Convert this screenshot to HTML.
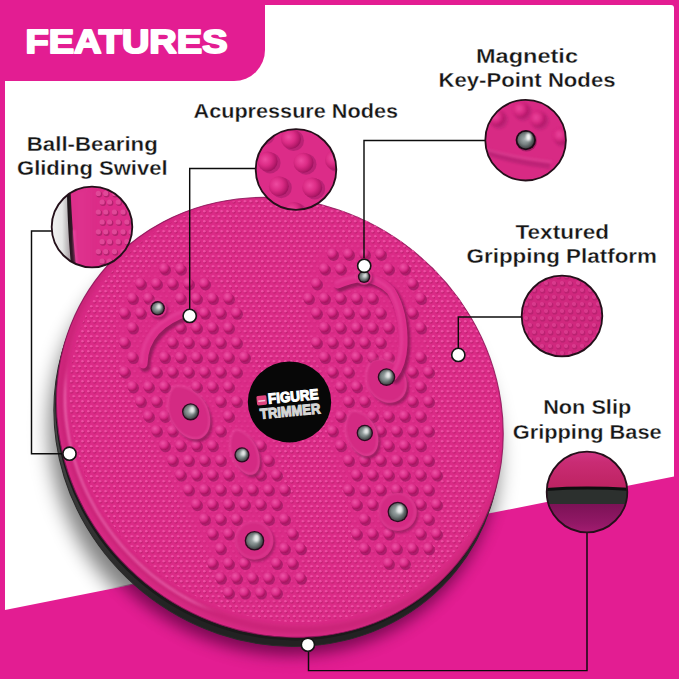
<!DOCTYPE html><html><head><meta charset="utf-8"><style>html,body{margin:0;padding:0;background:#e31d92;width:679px;height:679px;overflow:hidden}svg{display:block}text{font-family:"Liberation Sans",sans-serif;font-weight:bold}</style></head><body>
<svg width="679" height="679" viewBox="0 0 679 679">
<defs>
<filter id="bl8" x="-30%" y="-30%" width="160%" height="160%"><feGaussianBlur stdDeviation="8"/></filter><filter id="bl10" x="-30%" y="-30%" width="160%" height="160%"><feGaussianBlur stdDeviation="10"/></filter>
<filter id="bl3" x="-30%" y="-30%" width="160%" height="160%"><feGaussianBlur stdDeviation="3"/></filter>
<filter id="bl1" x="-30%" y="-30%" width="160%" height="160%"><feGaussianBlur stdDeviation="1"/></filter>
<radialGradient id="metal" cx="45%" cy="45%" r="60%"><stop offset="0" stop-color="#a8b2b2"/><stop offset="0.5" stop-color="#7a8484"/><stop offset="0.85" stop-color="#4a4f50"/><stop offset="1" stop-color="#303434"/></radialGradient>
<radialGradient id="bump" cx="42%" cy="38%" r="62%"><stop offset="0" stop-color="#f067b0"/><stop offset="0.55" stop-color="#d83a8e"/><stop offset="1" stop-color="#b0206e"/></radialGradient>
<radialGradient id="bigbump" cx="40%" cy="35%" r="65%"><stop offset="0" stop-color="#ee55a6"/><stop offset="0.6" stop-color="#da2c88"/><stop offset="1" stop-color="#a8125e"/></radialGradient>
<linearGradient id="nsTop" x1="0" y1="0" x2="0" y2="1"><stop offset="0" stop-color="#d5408e"/><stop offset="0.6" stop-color="#c52d72"/><stop offset="1" stop-color="#b0205a"/></linearGradient>
<linearGradient id="nsBot" x1="0" y1="0" x2="0" y2="1"><stop offset="0" stop-color="#6a1048"/><stop offset="0.5" stop-color="#8e1a66"/><stop offset="1" stop-color="#b8287e"/></linearGradient>
<pattern id="dots" x="0" y="0" width="5.8" height="10" patternUnits="userSpaceOnUse"><circle cx="1.9" cy="2.0" r="1.6" fill="#ae1862" opacity="0.75"/><circle cx="4.8" cy="7.0" r="1.6" fill="#ae1862" opacity="0.75"/><circle cx="1.3" cy="1.3" r="1.3" fill="#ee50a4"/><circle cx="4.2" cy="6.3" r="1.3" fill="#ee50a4"/></pattern>
<clipPath id="inner"><ellipse cx="284.8" cy="410.4" rx="221.8" ry="205.3" transform="rotate(39.0 284.8 410.4)" /></clipPath>
<mask id="footmask" maskUnits="userSpaceOnUse" x="0" y="0" width="679" height="679"><rect width="679" height="679" fill="#fff"/><g filter="url(#bl3)"><path d="M154.9,264.5 L202.3,271.3 L236.2,305.2 L243.0,346.0 L263.3,393.3 L272.0,430.0 L279.0,472.0 L294.0,515.0 L303.0,555.0 L299.0,586.0 L276.0,601.0 L240.0,603.0 L220.0,586.0 L204.0,546.0 L184.0,505.0 L166.0,466.0 L141.3,413.6 L121.0,366.2 L116.0,318.8 L127.8,284.9 Z" fill="#000" opacity="0.7"/><path d="M317.5,251.0 L358.2,240.8 L402.0,258.0 L421.0,298.0 L425.0,346.0 L431.0,393.3 L434.0,447.5 L441.0,495.0 L439.0,532.0 L424.0,557.0 L402.0,568.0 L380.0,568.0 L361.0,553.0 L351.0,520.0 L345.0,482.0 L331.0,447.5 L324.3,393.3 L310.7,339.0 L304.0,291.7 Z" fill="#000" opacity="0.7"/></g></mask>
<clipPath id="discc"><ellipse cx="279.8" cy="417.4" rx="229.8" ry="213.3" transform="rotate(39.0 279.8 417.4)" /></clipPath>
<clipPath id="panel"><path d="M5,5 H671 Q674,5 674,8 V476.6 L5,610 Z"/></clipPath>
<clipPath id="pinkbot"><path d="M0,0 V610 L674,476.6 V0 H679 V679 H0 Z"/></clipPath>
<clipPath id="c0"><circle cx="92.0" cy="227.0" r="40.3"/></clipPath>
<clipPath id="c1"><circle cx="296.0" cy="169.5" r="40.3"/></clipPath>
<clipPath id="c2"><circle cx="525.6" cy="140.2" r="40.3"/></clipPath>
<clipPath id="c3"><circle cx="562.0" cy="316.0" r="40.3"/></clipPath>
<clipPath id="c4"><circle cx="587.0" cy="492.0" r="40.3"/></clipPath>
</defs>
<rect width="679" height="679" fill="#e31d92"/>
<path d="M5,5 H671 Q674,5 674,8 V476.6 L5,610 Z" fill="#ffffff"/>
<path d="M0,0 H265 V50 A31,31 0 0 1 234,81 H0 Z" fill="#e31d92"/>
<text x="25.5" y="53.2" font-size="34" fill="#fff" textLength="202" lengthAdjust="spacingAndGlyphs" stroke="#fff" stroke-width="2" stroke-linejoin="round">FEATURES</text>
<g clip-path="url(#panel)"><ellipse cx="273.8" cy="444.4" rx="230.8" ry="214.3" transform="rotate(39.0 273.8 444.4)" fill="#000" opacity="0.5" filter="url(#bl10)"/></g>
<g clip-path="url(#pinkbot)"><ellipse cx="274.8" cy="435.4" rx="229.8" ry="213.3" transform="rotate(39.0 274.8 435.4)" fill="#4a0636" opacity="0.7" filter="url(#bl8)"/></g>
<linearGradient id="baseg" gradientUnits="userSpaceOnUse" x1="60" y1="420" x2="300" y2="650"><stop offset="0" stop-color="#5a5a5a"/><stop offset="0.45" stop-color="#444"/><stop offset="1" stop-color="#222"/></linearGradient>
<ellipse cx="277.3" cy="426.4" rx="229.8" ry="213.3" transform="rotate(39.0 277.3 426.4)" fill="url(#baseg)"/>
<ellipse cx="277.3" cy="426.4" rx="229.8" ry="213.3" transform="rotate(39.0 277.3 426.4)" fill="none" stroke="#2a2a2a" stroke-width="1"/>
<ellipse cx="278.6" cy="420.4" rx="229.8" ry="213.3" transform="rotate(39.0 278.6 420.4)" fill="#1a1a1a"/>
<ellipse cx="279.8" cy="417.4" rx="229.8" ry="213.3" transform="rotate(39.0 279.8 417.4)" fill="#db2b87"/>
<mask id="rimhl" maskUnits="userSpaceOnUse" x="0" y="0" width="679" height="679"><path d="M0,380 L110,380 L230,560 L160,679 L0,679 Z" fill="#fff" filter="url(#bl10)"/></mask>
<g clip-path="url(#discc)">
<g mask="url(#rimhl)"><ellipse cx="282.3" cy="413.9" rx="223.8" ry="207.3" transform="rotate(39.0 282.3 413.9)" fill="none" stroke="#ff7cc6" stroke-width="2.4" opacity="0.85" filter="url(#bl1)"/></g>
<ellipse cx="284.8" cy="410.4" rx="229.8" ry="213.3" transform="rotate(39.0 284.8 410.4)" fill="none" stroke="#a01654" stroke-width="6" opacity="0.4" filter="url(#bl3)"/>
</g>
<ellipse cx="279.8" cy="417.4" rx="229.8" ry="213.3" transform="rotate(39.0 279.8 417.4)" fill="none" stroke="#8c1458" stroke-width="1.1" opacity="0.85"/>
<g clip-path="url(#inner)">
<rect x="40" y="180" width="480" height="480" fill="url(#dots)" mask="url(#footmask)"/>
<filter id="soft" x="-10%" y="-10%" width="120%" height="120%"><feGaussianBlur stdDeviation="0.6"/></filter>
<g filter="url(#soft)">
<g fill="#8e1659" opacity="0.6"><circle cx="333.5" cy="255.4" r="5.5"/><circle cx="349.5" cy="255.4" r="5.5"/><circle cx="365.5" cy="255.4" r="5.5"/><circle cx="381.5" cy="255.4" r="5.5"/><circle cx="165.5" cy="270.2" r="5.5"/><circle cx="181.5" cy="270.2" r="5.5"/><circle cx="325.5" cy="270.2" r="5.5"/><circle cx="341.5" cy="270.2" r="5.5"/><circle cx="389.5" cy="270.2" r="5.5"/><circle cx="405.5" cy="270.2" r="5.5"/><circle cx="141.5" cy="284.9" r="5.5"/><circle cx="157.5" cy="284.9" r="5.5"/><circle cx="173.5" cy="284.9" r="5.5"/><circle cx="189.5" cy="284.9" r="5.5"/><circle cx="205.5" cy="284.9" r="5.5"/><circle cx="317.5" cy="284.9" r="5.5"/><circle cx="413.5" cy="284.9" r="5.5"/><circle cx="133.5" cy="299.6" r="5.5"/><circle cx="149.5" cy="299.6" r="5.5"/><circle cx="181.5" cy="299.6" r="5.5"/><circle cx="197.5" cy="299.6" r="5.5"/><circle cx="213.5" cy="299.6" r="5.5"/><circle cx="229.5" cy="299.6" r="5.5"/><circle cx="309.5" cy="299.6" r="5.5"/><circle cx="325.5" cy="299.6" r="5.5"/><circle cx="341.5" cy="299.6" r="5.5"/><circle cx="357.5" cy="299.6" r="5.5"/><circle cx="373.5" cy="299.6" r="5.5"/><circle cx="421.5" cy="299.6" r="5.5"/><circle cx="125.5" cy="314.3" r="5.5"/><circle cx="141.5" cy="314.3" r="5.5"/><circle cx="205.5" cy="314.3" r="5.5"/><circle cx="221.5" cy="314.3" r="5.5"/><circle cx="237.5" cy="314.3" r="5.5"/><circle cx="317.5" cy="314.3" r="5.5"/><circle cx="333.5" cy="314.3" r="5.5"/><circle cx="349.5" cy="314.3" r="5.5"/><circle cx="365.5" cy="314.3" r="5.5"/><circle cx="381.5" cy="314.3" r="5.5"/><circle cx="413.5" cy="314.3" r="5.5"/><circle cx="133.5" cy="329.0" r="5.5"/><circle cx="181.5" cy="329.0" r="5.5"/><circle cx="197.5" cy="329.0" r="5.5"/><circle cx="213.5" cy="329.0" r="5.5"/><circle cx="229.5" cy="329.0" r="5.5"/><circle cx="325.5" cy="329.0" r="5.5"/><circle cx="341.5" cy="329.0" r="5.5"/><circle cx="357.5" cy="329.0" r="5.5"/><circle cx="373.5" cy="329.0" r="5.5"/><circle cx="389.5" cy="329.0" r="5.5"/><circle cx="421.5" cy="329.0" r="5.5"/><circle cx="125.5" cy="343.8" r="5.5"/><circle cx="173.5" cy="343.8" r="5.5"/><circle cx="189.5" cy="343.8" r="5.5"/><circle cx="205.5" cy="343.8" r="5.5"/><circle cx="221.5" cy="343.8" r="5.5"/><circle cx="237.5" cy="343.8" r="5.5"/><circle cx="317.5" cy="343.8" r="5.5"/><circle cx="333.5" cy="343.8" r="5.5"/><circle cx="349.5" cy="343.8" r="5.5"/><circle cx="365.5" cy="343.8" r="5.5"/><circle cx="381.5" cy="343.8" r="5.5"/><circle cx="133.5" cy="358.5" r="5.5"/><circle cx="165.5" cy="358.5" r="5.5"/><circle cx="181.5" cy="358.5" r="5.5"/><circle cx="197.5" cy="358.5" r="5.5"/><circle cx="213.5" cy="358.5" r="5.5"/><circle cx="229.5" cy="358.5" r="5.5"/><circle cx="245.5" cy="358.5" r="5.5"/><circle cx="325.5" cy="358.5" r="5.5"/><circle cx="341.5" cy="358.5" r="5.5"/><circle cx="357.5" cy="358.5" r="5.5"/><circle cx="373.5" cy="358.5" r="5.5"/><circle cx="389.5" cy="358.5" r="5.5"/><circle cx="421.5" cy="358.5" r="5.5"/><circle cx="125.5" cy="373.2" r="5.5"/><circle cx="157.5" cy="373.2" r="5.5"/><circle cx="173.5" cy="373.2" r="5.5"/><circle cx="189.5" cy="373.2" r="5.5"/><circle cx="205.5" cy="373.2" r="5.5"/><circle cx="221.5" cy="373.2" r="5.5"/><circle cx="237.5" cy="373.2" r="5.5"/><circle cx="333.5" cy="373.2" r="5.5"/><circle cx="349.5" cy="373.2" r="5.5"/><circle cx="413.5" cy="373.2" r="5.5"/><circle cx="429.5" cy="373.2" r="5.5"/><circle cx="133.5" cy="387.9" r="5.5"/><circle cx="149.5" cy="387.9" r="5.5"/><circle cx="165.5" cy="387.9" r="5.5"/><circle cx="197.5" cy="387.9" r="5.5"/><circle cx="213.5" cy="387.9" r="5.5"/><circle cx="229.5" cy="387.9" r="5.5"/><circle cx="341.5" cy="387.9" r="5.5"/><circle cx="357.5" cy="387.9" r="5.5"/><circle cx="421.5" cy="387.9" r="5.5"/><circle cx="141.5" cy="402.6" r="5.5"/><circle cx="157.5" cy="402.6" r="5.5"/><circle cx="221.5" cy="402.6" r="5.5"/><circle cx="237.5" cy="402.6" r="5.5"/><circle cx="349.5" cy="402.6" r="5.5"/><circle cx="365.5" cy="402.6" r="5.5"/><circle cx="413.5" cy="402.6" r="5.5"/><circle cx="429.5" cy="402.6" r="5.5"/><circle cx="149.5" cy="417.4" r="5.5"/><circle cx="165.5" cy="417.4" r="5.5"/><circle cx="229.5" cy="417.4" r="5.5"/><circle cx="341.5" cy="417.4" r="5.5"/><circle cx="373.5" cy="417.4" r="5.5"/><circle cx="389.5" cy="417.4" r="5.5"/><circle cx="405.5" cy="417.4" r="5.5"/><circle cx="421.5" cy="417.4" r="5.5"/><circle cx="157.5" cy="432.1" r="5.5"/><circle cx="173.5" cy="432.1" r="5.5"/><circle cx="221.5" cy="432.1" r="5.5"/><circle cx="333.5" cy="432.1" r="5.5"/><circle cx="381.5" cy="432.1" r="5.5"/><circle cx="397.5" cy="432.1" r="5.5"/><circle cx="413.5" cy="432.1" r="5.5"/><circle cx="429.5" cy="432.1" r="5.5"/><circle cx="165.5" cy="446.8" r="5.5"/><circle cx="181.5" cy="446.8" r="5.5"/><circle cx="197.5" cy="446.8" r="5.5"/><circle cx="213.5" cy="446.8" r="5.5"/><circle cx="261.5" cy="446.8" r="5.5"/><circle cx="341.5" cy="446.8" r="5.5"/><circle cx="389.5" cy="446.8" r="5.5"/><circle cx="405.5" cy="446.8" r="5.5"/><circle cx="421.5" cy="446.8" r="5.5"/><circle cx="173.5" cy="461.5" r="5.5"/><circle cx="189.5" cy="461.5" r="5.5"/><circle cx="205.5" cy="461.5" r="5.5"/><circle cx="221.5" cy="461.5" r="5.5"/><circle cx="269.5" cy="461.5" r="5.5"/><circle cx="349.5" cy="461.5" r="5.5"/><circle cx="365.5" cy="461.5" r="5.5"/><circle cx="381.5" cy="461.5" r="5.5"/><circle cx="397.5" cy="461.5" r="5.5"/><circle cx="413.5" cy="461.5" r="5.5"/><circle cx="429.5" cy="461.5" r="5.5"/><circle cx="181.5" cy="476.2" r="5.5"/><circle cx="197.5" cy="476.2" r="5.5"/><circle cx="213.5" cy="476.2" r="5.5"/><circle cx="229.5" cy="476.2" r="5.5"/><circle cx="261.5" cy="476.2" r="5.5"/><circle cx="277.5" cy="476.2" r="5.5"/><circle cx="357.5" cy="476.2" r="5.5"/><circle cx="373.5" cy="476.2" r="5.5"/><circle cx="389.5" cy="476.2" r="5.5"/><circle cx="405.5" cy="476.2" r="5.5"/><circle cx="421.5" cy="476.2" r="5.5"/><circle cx="437.5" cy="476.2" r="5.5"/><circle cx="189.5" cy="491.0" r="5.5"/><circle cx="205.5" cy="491.0" r="5.5"/><circle cx="221.5" cy="491.0" r="5.5"/><circle cx="237.5" cy="491.0" r="5.5"/><circle cx="253.5" cy="491.0" r="5.5"/><circle cx="269.5" cy="491.0" r="5.5"/><circle cx="285.5" cy="491.0" r="5.5"/><circle cx="349.5" cy="491.0" r="5.5"/><circle cx="365.5" cy="491.0" r="5.5"/><circle cx="381.5" cy="491.0" r="5.5"/><circle cx="397.5" cy="491.0" r="5.5"/><circle cx="413.5" cy="491.0" r="5.5"/><circle cx="429.5" cy="491.0" r="5.5"/><circle cx="197.5" cy="505.7" r="5.5"/><circle cx="213.5" cy="505.7" r="5.5"/><circle cx="229.5" cy="505.7" r="5.5"/><circle cx="245.5" cy="505.7" r="5.5"/><circle cx="261.5" cy="505.7" r="5.5"/><circle cx="277.5" cy="505.7" r="5.5"/><circle cx="357.5" cy="505.7" r="5.5"/><circle cx="373.5" cy="505.7" r="5.5"/><circle cx="421.5" cy="505.7" r="5.5"/><circle cx="437.5" cy="505.7" r="5.5"/><circle cx="205.5" cy="520.4" r="5.5"/><circle cx="221.5" cy="520.4" r="5.5"/><circle cx="237.5" cy="520.4" r="5.5"/><circle cx="269.5" cy="520.4" r="5.5"/><circle cx="285.5" cy="520.4" r="5.5"/><circle cx="365.5" cy="520.4" r="5.5"/><circle cx="429.5" cy="520.4" r="5.5"/><circle cx="213.5" cy="535.1" r="5.5"/><circle cx="229.5" cy="535.1" r="5.5"/><circle cx="293.5" cy="535.1" r="5.5"/><circle cx="357.5" cy="535.1" r="5.5"/><circle cx="373.5" cy="535.1" r="5.5"/><circle cx="389.5" cy="535.1" r="5.5"/><circle cx="421.5" cy="535.1" r="5.5"/><circle cx="437.5" cy="535.1" r="5.5"/><circle cx="221.5" cy="549.8" r="5.5"/><circle cx="285.5" cy="549.8" r="5.5"/><circle cx="301.5" cy="549.8" r="5.5"/><circle cx="365.5" cy="549.8" r="5.5"/><circle cx="381.5" cy="549.8" r="5.5"/><circle cx="397.5" cy="549.8" r="5.5"/><circle cx="413.5" cy="549.8" r="5.5"/><circle cx="429.5" cy="549.8" r="5.5"/><circle cx="213.5" cy="564.6" r="5.5"/><circle cx="229.5" cy="564.6" r="5.5"/><circle cx="245.5" cy="564.6" r="5.5"/><circle cx="277.5" cy="564.6" r="5.5"/><circle cx="293.5" cy="564.6" r="5.5"/><circle cx="389.5" cy="564.6" r="5.5"/><circle cx="405.5" cy="564.6" r="5.5"/><circle cx="221.5" cy="579.3" r="5.5"/><circle cx="237.5" cy="579.3" r="5.5"/><circle cx="253.5" cy="579.3" r="5.5"/><circle cx="269.5" cy="579.3" r="5.5"/><circle cx="285.5" cy="579.3" r="5.5"/><circle cx="301.5" cy="579.3" r="5.5"/><circle cx="229.5" cy="594.0" r="5.5"/><circle cx="245.5" cy="594.0" r="5.5"/><circle cx="261.5" cy="594.0" r="5.5"/><circle cx="277.5" cy="594.0" r="5.5"/></g>
<g fill="url(#bigbump)"><circle cx="332.0" cy="253.4" r="5.2"/><circle cx="348.0" cy="253.4" r="5.2"/><circle cx="364.0" cy="253.4" r="5.2"/><circle cx="380.0" cy="253.4" r="5.2"/><circle cx="164.0" cy="268.2" r="5.2"/><circle cx="180.0" cy="268.2" r="5.2"/><circle cx="324.0" cy="268.2" r="5.2"/><circle cx="340.0" cy="268.2" r="5.2"/><circle cx="388.0" cy="268.2" r="5.2"/><circle cx="404.0" cy="268.2" r="5.2"/><circle cx="140.0" cy="282.9" r="5.2"/><circle cx="156.0" cy="282.9" r="5.2"/><circle cx="172.0" cy="282.9" r="5.2"/><circle cx="188.0" cy="282.9" r="5.2"/><circle cx="204.0" cy="282.9" r="5.2"/><circle cx="316.0" cy="282.9" r="5.2"/><circle cx="412.0" cy="282.9" r="5.2"/><circle cx="132.0" cy="297.6" r="5.2"/><circle cx="148.0" cy="297.6" r="5.2"/><circle cx="180.0" cy="297.6" r="5.2"/><circle cx="196.0" cy="297.6" r="5.2"/><circle cx="212.0" cy="297.6" r="5.2"/><circle cx="228.0" cy="297.6" r="5.2"/><circle cx="308.0" cy="297.6" r="5.2"/><circle cx="324.0" cy="297.6" r="5.2"/><circle cx="340.0" cy="297.6" r="5.2"/><circle cx="356.0" cy="297.6" r="5.2"/><circle cx="372.0" cy="297.6" r="5.2"/><circle cx="420.0" cy="297.6" r="5.2"/><circle cx="124.0" cy="312.3" r="5.2"/><circle cx="140.0" cy="312.3" r="5.2"/><circle cx="204.0" cy="312.3" r="5.2"/><circle cx="220.0" cy="312.3" r="5.2"/><circle cx="236.0" cy="312.3" r="5.2"/><circle cx="316.0" cy="312.3" r="5.2"/><circle cx="332.0" cy="312.3" r="5.2"/><circle cx="348.0" cy="312.3" r="5.2"/><circle cx="364.0" cy="312.3" r="5.2"/><circle cx="380.0" cy="312.3" r="5.2"/><circle cx="412.0" cy="312.3" r="5.2"/><circle cx="132.0" cy="327.0" r="5.2"/><circle cx="180.0" cy="327.0" r="5.2"/><circle cx="196.0" cy="327.0" r="5.2"/><circle cx="212.0" cy="327.0" r="5.2"/><circle cx="228.0" cy="327.0" r="5.2"/><circle cx="324.0" cy="327.0" r="5.2"/><circle cx="340.0" cy="327.0" r="5.2"/><circle cx="356.0" cy="327.0" r="5.2"/><circle cx="372.0" cy="327.0" r="5.2"/><circle cx="388.0" cy="327.0" r="5.2"/><circle cx="420.0" cy="327.0" r="5.2"/><circle cx="124.0" cy="341.8" r="5.2"/><circle cx="172.0" cy="341.8" r="5.2"/><circle cx="188.0" cy="341.8" r="5.2"/><circle cx="204.0" cy="341.8" r="5.2"/><circle cx="220.0" cy="341.8" r="5.2"/><circle cx="236.0" cy="341.8" r="5.2"/><circle cx="316.0" cy="341.8" r="5.2"/><circle cx="332.0" cy="341.8" r="5.2"/><circle cx="348.0" cy="341.8" r="5.2"/><circle cx="364.0" cy="341.8" r="5.2"/><circle cx="380.0" cy="341.8" r="5.2"/><circle cx="132.0" cy="356.5" r="5.2"/><circle cx="164.0" cy="356.5" r="5.2"/><circle cx="180.0" cy="356.5" r="5.2"/><circle cx="196.0" cy="356.5" r="5.2"/><circle cx="212.0" cy="356.5" r="5.2"/><circle cx="228.0" cy="356.5" r="5.2"/><circle cx="244.0" cy="356.5" r="5.2"/><circle cx="324.0" cy="356.5" r="5.2"/><circle cx="340.0" cy="356.5" r="5.2"/><circle cx="356.0" cy="356.5" r="5.2"/><circle cx="372.0" cy="356.5" r="5.2"/><circle cx="388.0" cy="356.5" r="5.2"/><circle cx="420.0" cy="356.5" r="5.2"/><circle cx="124.0" cy="371.2" r="5.2"/><circle cx="156.0" cy="371.2" r="5.2"/><circle cx="172.0" cy="371.2" r="5.2"/><circle cx="188.0" cy="371.2" r="5.2"/><circle cx="204.0" cy="371.2" r="5.2"/><circle cx="220.0" cy="371.2" r="5.2"/><circle cx="236.0" cy="371.2" r="5.2"/><circle cx="332.0" cy="371.2" r="5.2"/><circle cx="348.0" cy="371.2" r="5.2"/><circle cx="412.0" cy="371.2" r="5.2"/><circle cx="428.0" cy="371.2" r="5.2"/><circle cx="132.0" cy="385.9" r="5.2"/><circle cx="148.0" cy="385.9" r="5.2"/><circle cx="164.0" cy="385.9" r="5.2"/><circle cx="196.0" cy="385.9" r="5.2"/><circle cx="212.0" cy="385.9" r="5.2"/><circle cx="228.0" cy="385.9" r="5.2"/><circle cx="340.0" cy="385.9" r="5.2"/><circle cx="356.0" cy="385.9" r="5.2"/><circle cx="420.0" cy="385.9" r="5.2"/><circle cx="140.0" cy="400.6" r="5.2"/><circle cx="156.0" cy="400.6" r="5.2"/><circle cx="220.0" cy="400.6" r="5.2"/><circle cx="236.0" cy="400.6" r="5.2"/><circle cx="348.0" cy="400.6" r="5.2"/><circle cx="364.0" cy="400.6" r="5.2"/><circle cx="412.0" cy="400.6" r="5.2"/><circle cx="428.0" cy="400.6" r="5.2"/><circle cx="148.0" cy="415.4" r="5.2"/><circle cx="164.0" cy="415.4" r="5.2"/><circle cx="228.0" cy="415.4" r="5.2"/><circle cx="340.0" cy="415.4" r="5.2"/><circle cx="372.0" cy="415.4" r="5.2"/><circle cx="388.0" cy="415.4" r="5.2"/><circle cx="404.0" cy="415.4" r="5.2"/><circle cx="420.0" cy="415.4" r="5.2"/><circle cx="156.0" cy="430.1" r="5.2"/><circle cx="172.0" cy="430.1" r="5.2"/><circle cx="220.0" cy="430.1" r="5.2"/><circle cx="332.0" cy="430.1" r="5.2"/><circle cx="380.0" cy="430.1" r="5.2"/><circle cx="396.0" cy="430.1" r="5.2"/><circle cx="412.0" cy="430.1" r="5.2"/><circle cx="428.0" cy="430.1" r="5.2"/><circle cx="164.0" cy="444.8" r="5.2"/><circle cx="180.0" cy="444.8" r="5.2"/><circle cx="196.0" cy="444.8" r="5.2"/><circle cx="212.0" cy="444.8" r="5.2"/><circle cx="260.0" cy="444.8" r="5.2"/><circle cx="340.0" cy="444.8" r="5.2"/><circle cx="388.0" cy="444.8" r="5.2"/><circle cx="404.0" cy="444.8" r="5.2"/><circle cx="420.0" cy="444.8" r="5.2"/><circle cx="172.0" cy="459.5" r="5.2"/><circle cx="188.0" cy="459.5" r="5.2"/><circle cx="204.0" cy="459.5" r="5.2"/><circle cx="220.0" cy="459.5" r="5.2"/><circle cx="268.0" cy="459.5" r="5.2"/><circle cx="348.0" cy="459.5" r="5.2"/><circle cx="364.0" cy="459.5" r="5.2"/><circle cx="380.0" cy="459.5" r="5.2"/><circle cx="396.0" cy="459.5" r="5.2"/><circle cx="412.0" cy="459.5" r="5.2"/><circle cx="428.0" cy="459.5" r="5.2"/><circle cx="180.0" cy="474.2" r="5.2"/><circle cx="196.0" cy="474.2" r="5.2"/><circle cx="212.0" cy="474.2" r="5.2"/><circle cx="228.0" cy="474.2" r="5.2"/><circle cx="260.0" cy="474.2" r="5.2"/><circle cx="276.0" cy="474.2" r="5.2"/><circle cx="356.0" cy="474.2" r="5.2"/><circle cx="372.0" cy="474.2" r="5.2"/><circle cx="388.0" cy="474.2" r="5.2"/><circle cx="404.0" cy="474.2" r="5.2"/><circle cx="420.0" cy="474.2" r="5.2"/><circle cx="436.0" cy="474.2" r="5.2"/><circle cx="188.0" cy="489.0" r="5.2"/><circle cx="204.0" cy="489.0" r="5.2"/><circle cx="220.0" cy="489.0" r="5.2"/><circle cx="236.0" cy="489.0" r="5.2"/><circle cx="252.0" cy="489.0" r="5.2"/><circle cx="268.0" cy="489.0" r="5.2"/><circle cx="284.0" cy="489.0" r="5.2"/><circle cx="348.0" cy="489.0" r="5.2"/><circle cx="364.0" cy="489.0" r="5.2"/><circle cx="380.0" cy="489.0" r="5.2"/><circle cx="396.0" cy="489.0" r="5.2"/><circle cx="412.0" cy="489.0" r="5.2"/><circle cx="428.0" cy="489.0" r="5.2"/><circle cx="196.0" cy="503.7" r="5.2"/><circle cx="212.0" cy="503.7" r="5.2"/><circle cx="228.0" cy="503.7" r="5.2"/><circle cx="244.0" cy="503.7" r="5.2"/><circle cx="260.0" cy="503.7" r="5.2"/><circle cx="276.0" cy="503.7" r="5.2"/><circle cx="356.0" cy="503.7" r="5.2"/><circle cx="372.0" cy="503.7" r="5.2"/><circle cx="420.0" cy="503.7" r="5.2"/><circle cx="436.0" cy="503.7" r="5.2"/><circle cx="204.0" cy="518.4" r="5.2"/><circle cx="220.0" cy="518.4" r="5.2"/><circle cx="236.0" cy="518.4" r="5.2"/><circle cx="268.0" cy="518.4" r="5.2"/><circle cx="284.0" cy="518.4" r="5.2"/><circle cx="364.0" cy="518.4" r="5.2"/><circle cx="428.0" cy="518.4" r="5.2"/><circle cx="212.0" cy="533.1" r="5.2"/><circle cx="228.0" cy="533.1" r="5.2"/><circle cx="292.0" cy="533.1" r="5.2"/><circle cx="356.0" cy="533.1" r="5.2"/><circle cx="372.0" cy="533.1" r="5.2"/><circle cx="388.0" cy="533.1" r="5.2"/><circle cx="420.0" cy="533.1" r="5.2"/><circle cx="436.0" cy="533.1" r="5.2"/><circle cx="220.0" cy="547.8" r="5.2"/><circle cx="284.0" cy="547.8" r="5.2"/><circle cx="300.0" cy="547.8" r="5.2"/><circle cx="364.0" cy="547.8" r="5.2"/><circle cx="380.0" cy="547.8" r="5.2"/><circle cx="396.0" cy="547.8" r="5.2"/><circle cx="412.0" cy="547.8" r="5.2"/><circle cx="428.0" cy="547.8" r="5.2"/><circle cx="212.0" cy="562.6" r="5.2"/><circle cx="228.0" cy="562.6" r="5.2"/><circle cx="244.0" cy="562.6" r="5.2"/><circle cx="276.0" cy="562.6" r="5.2"/><circle cx="292.0" cy="562.6" r="5.2"/><circle cx="388.0" cy="562.6" r="5.2"/><circle cx="404.0" cy="562.6" r="5.2"/><circle cx="220.0" cy="577.3" r="5.2"/><circle cx="236.0" cy="577.3" r="5.2"/><circle cx="252.0" cy="577.3" r="5.2"/><circle cx="268.0" cy="577.3" r="5.2"/><circle cx="284.0" cy="577.3" r="5.2"/><circle cx="300.0" cy="577.3" r="5.2"/><circle cx="228.0" cy="592.0" r="5.2"/><circle cx="244.0" cy="592.0" r="5.2"/><circle cx="260.0" cy="592.0" r="5.2"/><circle cx="276.0" cy="592.0" r="5.2"/></g>
</g>
</g>
<g clip-path="url(#inner)">
<path d="M175.2,387.0 C182.3,384.8 198.5,390.4 205.8,404.1 C213.0,417.7 211.4,432.8 202.1,437.7 C192.9,442.6 179.5,435.6 172.2,421.9 C165.0,408.3 169.4,391.7 175.2,387.0 Z" fill="#7e1250" opacity="0.7" transform="translate(2.2,2.8)" filter="url(#bl1)"/>
<path d="M175.2,387.0 C182.3,384.8 198.5,390.4 205.8,404.1 C213.0,417.7 211.4,432.8 202.1,437.7 C192.9,442.6 179.5,435.6 172.2,421.9 C165.0,408.3 169.4,391.7 175.2,387.0 Z" fill="#d42a83"/>
<path d="M175.2,387.0 C182.3,384.8 198.5,390.4 205.8,404.1 C213.0,417.7 211.4,432.8 202.1,437.7 C192.9,442.6 179.5,435.6 172.2,421.9 C165.0,408.3 169.4,391.7 175.2,387.0 Z" fill="none" stroke="#ec5aa8" stroke-width="1.5" opacity="0.6" transform="translate(-0.8,-0.8)" filter="url(#bl1)"/>
<path d="M236.0,430.6 C241.0,429.8 252.3,436.4 257.1,448.1 C261.8,459.9 260.3,471.6 253.6,474.3 C247.0,477.0 237.7,469.6 232.9,457.9 C228.2,446.1 231.7,433.6 236.0,430.6 Z" fill="#7e1250" opacity="0.7" transform="translate(2.2,2.8)" filter="url(#bl1)"/>
<path d="M236.0,430.6 C241.0,429.8 252.3,436.4 257.1,448.1 C261.8,459.9 260.3,471.6 253.6,474.3 C247.0,477.0 237.7,469.6 232.9,457.9 C228.2,446.1 231.7,433.6 236.0,430.6 Z" fill="#d42a83"/>
<path d="M236.0,430.6 C241.0,429.8 252.3,436.4 257.1,448.1 C261.8,459.9 260.3,471.6 253.6,474.3 C247.0,477.0 237.7,469.6 232.9,457.9 C228.2,446.1 231.7,433.6 236.0,430.6 Z" fill="none" stroke="#ec5aa8" stroke-width="1.5" opacity="0.6" transform="translate(-0.8,-0.8)" filter="url(#bl1)"/>
<path d="M372.6,361.2 C379.3,357.9 394.8,359.7 402.1,370.1 C409.3,380.5 408.3,393.8 399.7,399.8 C391.1,405.9 378.2,402.3 370.9,391.9 C363.7,381.5 367.3,366.4 372.6,361.2 Z" fill="#7e1250" opacity="0.7" transform="translate(2.2,2.8)" filter="url(#bl1)"/>
<path d="M372.6,361.2 C379.3,357.9 394.8,359.7 402.1,370.1 C409.3,380.5 408.3,393.8 399.7,399.8 C391.1,405.9 378.2,402.3 370.9,391.9 C363.7,381.5 367.3,366.4 372.6,361.2 Z" fill="#d42a83"/>
<path d="M372.6,361.2 C379.3,357.9 394.8,359.7 402.1,370.1 C409.3,380.5 408.3,393.8 399.7,399.8 C391.1,405.9 378.2,402.3 370.9,391.9 C363.7,381.5 367.3,366.4 372.6,361.2 Z" fill="none" stroke="#ec5aa8" stroke-width="1.5" opacity="0.6" transform="translate(-0.8,-0.8)" filter="url(#bl1)"/>
<path d="M353.0,411.6 C358.8,410.5 371.1,416.6 375.9,428.4 C380.7,440.2 378.3,452.2 370.6,455.3 C362.9,458.4 352.9,451.4 348.1,439.6 C343.3,427.8 348.0,414.8 353.0,411.6 Z" fill="#7e1250" opacity="0.7" transform="translate(2.2,2.8)" filter="url(#bl1)"/>
<path d="M353.0,411.6 C358.8,410.5 371.1,416.6 375.9,428.4 C380.7,440.2 378.3,452.2 370.6,455.3 C362.9,458.4 352.9,451.4 348.1,439.6 C343.3,427.8 348.0,414.8 353.0,411.6 Z" fill="#d42a83"/>
<path d="M353.0,411.6 C358.8,410.5 371.1,416.6 375.9,428.4 C380.7,440.2 378.3,452.2 370.6,455.3 C362.9,458.4 352.9,451.4 348.1,439.6 C343.3,427.8 348.0,414.8 353.0,411.6 Z" fill="none" stroke="#ec5aa8" stroke-width="1.5" opacity="0.6" transform="translate(-0.8,-0.8)" filter="url(#bl1)"/>
<path d="M143,364 Q144,325 190,311" fill="none" stroke="#7e1250" stroke-width="10" stroke-linecap="round" opacity="0.75" transform="translate(2.4,3)" filter="url(#bl1)"/>
<path d="M143,364 Q144,325 190,311" fill="none" stroke="#dc2e8a" stroke-width="9" stroke-linecap="round"/>
<path d="M143,364 Q144,325 190,311" fill="none" stroke="#e6469c" stroke-width="3" stroke-linecap="round" opacity="0.6" transform="translate(-1.5,-1.5)" filter="url(#bl1)"/>
<path d="M338,284 Q370,269 391,291 Q404,312 403,345 Q402,365 393,376" fill="none" stroke="#7e1250" stroke-width="10" stroke-linecap="round" opacity="0.75" transform="translate(2.4,3)" filter="url(#bl1)"/>
<path d="M338,284 Q370,269 391,291 Q404,312 403,345 Q402,365 393,376" fill="none" stroke="#dc2e8a" stroke-width="9" stroke-linecap="round"/>
<path d="M338,284 Q370,269 391,291 Q404,312 403,345 Q402,365 393,376" fill="none" stroke="#e6469c" stroke-width="3" stroke-linecap="round" opacity="0.6" transform="translate(-1.5,-1.5)" filter="url(#bl1)"/>
</g>
<ellipse cx="289.5" cy="401.9" rx="41.7" ry="40.5" fill="#070707"/>
<g transform="rotate(-5.5 289 402)">
<rect x="257" y="393" width="10" height="9.5" rx="1.5" fill="#e0457f"/>
<rect x="258.5" y="397.5" width="7" height="1.6" fill="#fff" opacity="0.7"/>
<text x="268.5" y="401.8" font-size="14.5" fill="#fff" stroke="#fff" stroke-width="1.1" textLength="50.5" lengthAdjust="spacingAndGlyphs">FIGURE</text>
<text x="259" y="416.3" font-size="14.5" fill="#d6d6d6" stroke="#d6d6d6" stroke-width="1.1" textLength="60.5" lengthAdjust="spacingAndGlyphs">TRIMMER</text>
</g>
<circle cx="159.5" cy="310.7" r="9.0" fill="#7e1250" opacity="0.55" filter="url(#bl1)"/>
<circle cx="157.7" cy="308.3" r="9.0" fill="#d42a83"/>
<circle cx="156.9" cy="307.5" r="8.0" fill="none" stroke="#ec5aa8" stroke-width="1.3" opacity="0.5" filter="url(#bl1)"/>
<circle cx="157.7" cy="308.3" r="7.2" fill="#2a0a1e"/>
<circle cx="157.7" cy="308.3" r="5.9" fill="url(#metal)"/>
<ellipse cx="159.1" cy="306.5" rx="2.2" ry="3.0" fill="#ffffff" opacity="0.8" filter="url(#bl1)"/>
<circle cx="365.9" cy="279.2" r="8.0" fill="#7e1250" opacity="0.55" filter="url(#bl1)"/>
<circle cx="364.1" cy="276.8" r="8.0" fill="#d42a83"/>
<circle cx="363.3" cy="276.0" r="7.0" fill="none" stroke="#ec5aa8" stroke-width="1.3" opacity="0.5" filter="url(#bl1)"/>
<circle cx="364.1" cy="276.8" r="6.2" fill="#2a0a1e"/>
<circle cx="364.1" cy="276.8" r="4.9" fill="url(#metal)"/>
<ellipse cx="365.3" cy="275.2" rx="1.9" ry="2.6" fill="#ffffff" opacity="0.8" filter="url(#bl1)"/>
<circle cx="190.6" cy="411.8" r="8.6" fill="#2a0a1e"/>
<circle cx="190.6" cy="411.8" r="7.3" fill="url(#metal)"/>
<ellipse cx="192.3" cy="409.7" rx="2.6" ry="3.6" fill="#ffffff" opacity="0.8" filter="url(#bl1)"/>
<circle cx="386.5" cy="377.1" r="8.8" fill="#2a0a1e"/>
<circle cx="386.5" cy="377.1" r="7.5" fill="url(#metal)"/>
<ellipse cx="388.3" cy="374.9" rx="2.6" ry="3.7" fill="#ffffff" opacity="0.8" filter="url(#bl1)"/>
<circle cx="242.0" cy="454.9" r="7.6" fill="#2a0a1e"/>
<circle cx="242.0" cy="454.9" r="6.3" fill="url(#metal)"/>
<ellipse cx="243.5" cy="453.0" rx="2.3" ry="3.2" fill="#ffffff" opacity="0.8" filter="url(#bl1)"/>
<circle cx="364.8" cy="433.0" r="8.2" fill="#2a0a1e"/>
<circle cx="364.8" cy="433.0" r="6.9" fill="url(#metal)"/>
<ellipse cx="366.4" cy="430.9" rx="2.5" ry="3.4" fill="#ffffff" opacity="0.8" filter="url(#bl1)"/>
<circle cx="399.6" cy="514.4" r="19.0" fill="#7e1250" opacity="0.55" filter="url(#bl1)"/>
<circle cx="397.8" cy="512.0" r="19.0" fill="#d42a83"/>
<circle cx="397.0" cy="511.2" r="18.0" fill="none" stroke="#ec5aa8" stroke-width="1.3" opacity="0.5" filter="url(#bl1)"/>
<circle cx="397.8" cy="512.0" r="10.2" fill="#2a0a1e"/>
<circle cx="397.8" cy="512.0" r="8.9" fill="url(#metal)"/>
<ellipse cx="399.8" cy="509.4" rx="3.1" ry="4.3" fill="#ffffff" opacity="0.8" filter="url(#bl1)"/>
<circle cx="256.3" cy="543.1" r="19.0" fill="#7e1250" opacity="0.55" filter="url(#bl1)"/>
<circle cx="254.5" cy="540.7" r="19.0" fill="#d42a83"/>
<circle cx="253.7" cy="539.9" r="18.0" fill="none" stroke="#ec5aa8" stroke-width="1.3" opacity="0.5" filter="url(#bl1)"/>
<circle cx="254.5" cy="540.7" r="9.8" fill="#2a0a1e"/>
<circle cx="254.5" cy="540.7" r="8.5" fill="url(#metal)"/>
<ellipse cx="256.5" cy="538.2" rx="2.9" ry="4.1" fill="#ffffff" opacity="0.8" filter="url(#bl1)"/>
<path d="M52,231 H31.5 V453.7 H62" fill="none" stroke="#0c0c0c" stroke-width="1.45"/>
<path d="M255,168.4 H189.7 V309" fill="none" stroke="#0c0c0c" stroke-width="1.45"/>
<path d="M485,140.4 H364 V258" fill="none" stroke="#0c0c0c" stroke-width="1.45"/>
<path d="M522,316.9 H458.3 V348" fill="none" stroke="#0c0c0c" stroke-width="1.45"/>
<path d="M587,532 V670.6 H308.5 V652" fill="none" stroke="#0c0c0c" stroke-width="1.45"/>
<circle cx="69.5" cy="453.7" r="6.6" fill="#fff" stroke="#151515" stroke-width="1.6"/>
<circle cx="189.7" cy="315.9" r="6.6" fill="#fff" stroke="#151515" stroke-width="1.6"/>
<circle cx="364.2" cy="265.8" r="6.6" fill="#fff" stroke="#151515" stroke-width="1.6"/>
<circle cx="458.3" cy="354.9" r="6.6" fill="#fff" stroke="#151515" stroke-width="1.6"/>
<circle cx="307.9" cy="644.7" r="6.6" fill="#fff" stroke="#151515" stroke-width="1.6"/>
<linearGradient id="bbw" x1="0" y1="0" x2="1" y2="0"><stop offset="0" stop-color="#f4f4f4"/><stop offset="0.55" stop-color="#e6e6e6"/><stop offset="1" stop-color="#9a9a9a"/></linearGradient>
<g clip-path="url(#c0)">
<rect x="50" y="185" width="85" height="85" fill="#dc2c88"/>
<path d="M50,185 L68,185 Q68.5,230 72,270 L50,270 Z" fill="url(#bbw)"/>
<path d="M66.8,186 Q67.6,232 71.5,270 L76.5,270 Q72.2,232 70.4,186 Z" fill="#141414"/>
<path d="M74,230 Q75,255 77.5,270" fill="none" stroke="#f060b0" stroke-width="2.5" opacity="0.6" filter="url(#bl1)"/>
<rect x="71" y="185" width="20" height="85" fill="#e2409a" opacity="0.25" filter="url(#bl3)"/>
<circle cx="99.2" cy="194.5" r="3" fill="#a01c62" opacity="0.7"/><circle cx="98.3" cy="193.4" r="2.6" fill="#e04898"/>
<circle cx="106.6" cy="194.5" r="3" fill="#a01c62" opacity="0.7"/><circle cx="105.7" cy="193.4" r="2.6" fill="#e04898"/>
<circle cx="115.3" cy="194.5" r="3" fill="#a01c62" opacity="0.7"/><circle cx="114.4" cy="193.4" r="2.6" fill="#e04898"/>
<circle cx="123.9" cy="194.5" r="3" fill="#a01c62" opacity="0.7"/><circle cx="123.0" cy="193.4" r="2.6" fill="#e04898"/>
<circle cx="131.9" cy="194.5" r="3" fill="#a01c62" opacity="0.7"/><circle cx="131.0" cy="193.4" r="2.6" fill="#e04898"/>
<circle cx="103.0" cy="203.1" r="3" fill="#a01c62" opacity="0.7"/><circle cx="102.1" cy="202.0" r="2.6" fill="#e04898"/>
<circle cx="110.4" cy="203.1" r="3" fill="#a01c62" opacity="0.7"/><circle cx="109.5" cy="202.0" r="2.6" fill="#e04898"/>
<circle cx="119.1" cy="203.1" r="3" fill="#a01c62" opacity="0.7"/><circle cx="118.2" cy="202.0" r="2.6" fill="#e04898"/>
<circle cx="127.7" cy="203.1" r="3" fill="#a01c62" opacity="0.7"/><circle cx="126.8" cy="202.0" r="2.6" fill="#e04898"/>
<circle cx="135.7" cy="203.1" r="3" fill="#a01c62" opacity="0.7"/><circle cx="134.8" cy="202.0" r="2.6" fill="#e04898"/>
<circle cx="99.2" cy="213.1" r="3" fill="#a01c62" opacity="0.7"/><circle cx="98.3" cy="212.0" r="2.6" fill="#e04898"/>
<circle cx="106.6" cy="213.1" r="3" fill="#a01c62" opacity="0.7"/><circle cx="105.7" cy="212.0" r="2.6" fill="#e04898"/>
<circle cx="115.3" cy="213.1" r="3" fill="#a01c62" opacity="0.7"/><circle cx="114.4" cy="212.0" r="2.6" fill="#e04898"/>
<circle cx="123.9" cy="213.1" r="3" fill="#a01c62" opacity="0.7"/><circle cx="123.0" cy="212.0" r="2.6" fill="#e04898"/>
<circle cx="131.9" cy="213.1" r="3" fill="#a01c62" opacity="0.7"/><circle cx="131.0" cy="212.0" r="2.6" fill="#e04898"/>
<circle cx="103.0" cy="223.1" r="3" fill="#a01c62" opacity="0.7"/><circle cx="102.1" cy="222.0" r="2.6" fill="#e04898"/>
<circle cx="110.4" cy="223.1" r="3" fill="#a01c62" opacity="0.7"/><circle cx="109.5" cy="222.0" r="2.6" fill="#e04898"/>
<circle cx="119.1" cy="223.1" r="3" fill="#a01c62" opacity="0.7"/><circle cx="118.2" cy="222.0" r="2.6" fill="#e04898"/>
<circle cx="127.7" cy="223.1" r="3" fill="#a01c62" opacity="0.7"/><circle cx="126.8" cy="222.0" r="2.6" fill="#e04898"/>
<circle cx="135.7" cy="223.1" r="3" fill="#a01c62" opacity="0.7"/><circle cx="134.8" cy="222.0" r="2.6" fill="#e04898"/>
<circle cx="99.2" cy="232.9" r="3" fill="#a01c62" opacity="0.7"/><circle cx="98.3" cy="231.8" r="2.6" fill="#e04898"/>
<circle cx="106.6" cy="232.9" r="3" fill="#a01c62" opacity="0.7"/><circle cx="105.7" cy="231.8" r="2.6" fill="#e04898"/>
<circle cx="115.3" cy="232.9" r="3" fill="#a01c62" opacity="0.7"/><circle cx="114.4" cy="231.8" r="2.6" fill="#e04898"/>
<circle cx="123.9" cy="232.9" r="3" fill="#a01c62" opacity="0.7"/><circle cx="123.0" cy="231.8" r="2.6" fill="#e04898"/>
<circle cx="131.9" cy="232.9" r="3" fill="#a01c62" opacity="0.7"/><circle cx="131.0" cy="231.8" r="2.6" fill="#e04898"/>
<circle cx="103.0" cy="242.8" r="3" fill="#a01c62" opacity="0.7"/><circle cx="102.1" cy="241.7" r="2.6" fill="#e04898"/>
<circle cx="110.4" cy="242.8" r="3" fill="#a01c62" opacity="0.7"/><circle cx="109.5" cy="241.7" r="2.6" fill="#e04898"/>
<circle cx="119.1" cy="242.8" r="3" fill="#a01c62" opacity="0.7"/><circle cx="118.2" cy="241.7" r="2.6" fill="#e04898"/>
<circle cx="127.7" cy="242.8" r="3" fill="#a01c62" opacity="0.7"/><circle cx="126.8" cy="241.7" r="2.6" fill="#e04898"/>
<circle cx="135.7" cy="242.8" r="3" fill="#a01c62" opacity="0.7"/><circle cx="134.8" cy="241.7" r="2.6" fill="#e04898"/>
<circle cx="99.2" cy="252.7" r="3" fill="#a01c62" opacity="0.7"/><circle cx="98.3" cy="251.6" r="2.6" fill="#e04898"/>
<circle cx="106.6" cy="252.7" r="3" fill="#a01c62" opacity="0.7"/><circle cx="105.7" cy="251.6" r="2.6" fill="#e04898"/>
<circle cx="115.3" cy="252.7" r="3" fill="#a01c62" opacity="0.7"/><circle cx="114.4" cy="251.6" r="2.6" fill="#e04898"/>
<circle cx="123.9" cy="252.7" r="3" fill="#a01c62" opacity="0.7"/><circle cx="123.0" cy="251.6" r="2.6" fill="#e04898"/>
<circle cx="131.9" cy="252.7" r="3" fill="#a01c62" opacity="0.7"/><circle cx="131.0" cy="251.6" r="2.6" fill="#e04898"/>
<circle cx="103.0" cy="262.1" r="3" fill="#a01c62" opacity="0.7"/><circle cx="102.1" cy="261.0" r="2.6" fill="#e04898"/>
<circle cx="110.4" cy="262.1" r="3" fill="#a01c62" opacity="0.7"/><circle cx="109.5" cy="261.0" r="2.6" fill="#e04898"/>
<circle cx="119.1" cy="262.1" r="3" fill="#a01c62" opacity="0.7"/><circle cx="118.2" cy="261.0" r="2.6" fill="#e04898"/>
<circle cx="127.7" cy="262.1" r="3" fill="#a01c62" opacity="0.7"/><circle cx="126.8" cy="261.0" r="2.6" fill="#e04898"/>
<circle cx="135.7" cy="262.1" r="3" fill="#a01c62" opacity="0.7"/><circle cx="134.8" cy="261.0" r="2.6" fill="#e04898"/>
</g>
<radialGradient id="bump2" cx="38%" cy="40%" r="62%"><stop offset="0" stop-color="#ee4aa0"/><stop offset="0.5" stop-color="#dc2c86"/><stop offset="0.85" stop-color="#b81a6c"/><stop offset="1" stop-color="#a01460"/></radialGradient>
<g clip-path="url(#c1)">
<rect x="250" y="125" width="95" height="90" fill="#dc2c88"/>
<circle cx="293.5" cy="140.5" r="10.5" fill="#901660" opacity="0.45"/>
<circle cx="291.0" cy="139.0" r="10" fill="url(#bump2)"/>
<circle cx="270.1" cy="162.9" r="10.5" fill="#901660" opacity="0.45"/>
<circle cx="267.6" cy="161.4" r="10" fill="url(#bump2)"/>
<circle cx="306.0" cy="164.2" r="10.5" fill="#901660" opacity="0.45"/>
<circle cx="303.5" cy="162.7" r="10" fill="url(#bump2)"/>
<circle cx="337.5" cy="161.5" r="10.5" fill="#901660" opacity="0.45"/>
<circle cx="335.0" cy="160.0" r="10" fill="url(#bump2)"/>
<circle cx="281.3" cy="187.7" r="10.5" fill="#901660" opacity="0.45"/>
<circle cx="278.8" cy="186.2" r="10" fill="url(#bump2)"/>
<circle cx="314.7" cy="188.9" r="10.5" fill="#901660" opacity="0.45"/>
<circle cx="312.2" cy="187.4" r="10" fill="url(#bump2)"/>
<circle cx="296.5" cy="213.5" r="10.5" fill="#901660" opacity="0.45"/>
<circle cx="294.0" cy="212.0" r="10" fill="url(#bump2)"/>
<circle cx="332.5" cy="211.5" r="10.5" fill="#901660" opacity="0.45"/>
<circle cx="330.0" cy="210.0" r="10" fill="url(#bump2)"/>
<circle cx="260.5" cy="209.5" r="10.5" fill="#901660" opacity="0.45"/>
<circle cx="258.0" cy="208.0" r="10" fill="url(#bump2)"/>
<circle cx="264.5" cy="134.5" r="10.5" fill="#901660" opacity="0.45"/>
<circle cx="262.0" cy="133.0" r="10" fill="url(#bump2)"/>
</g>
<g clip-path="url(#c2)">
<rect x="480" y="95" width="95" height="90" fill="#d82a84"/>
<g filter="url(#bl1)" opacity="0.85">
<circle cx="523.0" cy="112.0" r="9" fill="#901660" opacity="0.35"/>
<circle cx="521.0" cy="110.0" r="8" fill="url(#bump2)"/>
<circle cx="540.0" cy="121.0" r="9" fill="#901660" opacity="0.35"/>
<circle cx="538.0" cy="119.0" r="8" fill="url(#bump2)"/>
<circle cx="499.0" cy="120.0" r="9" fill="#901660" opacity="0.35"/>
<circle cx="497.0" cy="118.0" r="8" fill="url(#bump2)"/>
<circle cx="563.0" cy="138.0" r="9" fill="#901660" opacity="0.35"/>
<circle cx="561.0" cy="136.0" r="8" fill="url(#bump2)"/>
</g>
<path d="M486,152 Q515,162 550,166" fill="none" stroke="#901660" stroke-width="6" opacity="0.35" filter="url(#bl1)"/>
<path d="M484,149 Q515,158 552,162" fill="none" stroke="#e04a9a" stroke-width="3" opacity="0.5" filter="url(#bl1)"/>
<circle cx="526.5" cy="141" r="10.5" fill="#701048" opacity="0.5"/>
<circle cx="525.8" cy="140.1" r="10.2" fill="#1e0a16"/>
<circle cx="525.8" cy="140.1" r="8.4" fill="url(#metal)"/>
<ellipse cx="528.5" cy="137" rx="2.6" ry="4" fill="#fff" opacity="0.9" filter="url(#bl1)"/>
</g>
<g clip-path="url(#c3)">
<rect x="515" y="270" width="95" height="95" fill="#d0287e"/>
<g fill="#9a1a60" opacity="0.4"><circle cx="518.8" cy="277.0" r="2.6"/><circle cx="526.8" cy="277.0" r="2.6"/><circle cx="534.8" cy="277.0" r="2.6"/><circle cx="542.8" cy="277.0" r="2.6"/><circle cx="550.8" cy="277.0" r="2.6"/><circle cx="558.8" cy="277.0" r="2.6"/><circle cx="566.8" cy="277.0" r="2.6"/><circle cx="574.8" cy="277.0" r="2.6"/><circle cx="582.8" cy="277.0" r="2.6"/><circle cx="590.8" cy="277.0" r="2.6"/><circle cx="598.8" cy="277.0" r="2.6"/><circle cx="606.8" cy="277.0" r="2.6"/><circle cx="522.8" cy="284.0" r="2.6"/><circle cx="530.8" cy="284.0" r="2.6"/><circle cx="538.8" cy="284.0" r="2.6"/><circle cx="546.8" cy="284.0" r="2.6"/><circle cx="554.8" cy="284.0" r="2.6"/><circle cx="562.8" cy="284.0" r="2.6"/><circle cx="570.8" cy="284.0" r="2.6"/><circle cx="578.8" cy="284.0" r="2.6"/><circle cx="586.8" cy="284.0" r="2.6"/><circle cx="594.8" cy="284.0" r="2.6"/><circle cx="602.8" cy="284.0" r="2.6"/><circle cx="610.8" cy="284.0" r="2.6"/><circle cx="518.8" cy="291.0" r="2.6"/><circle cx="526.8" cy="291.0" r="2.6"/><circle cx="534.8" cy="291.0" r="2.6"/><circle cx="542.8" cy="291.0" r="2.6"/><circle cx="550.8" cy="291.0" r="2.6"/><circle cx="558.8" cy="291.0" r="2.6"/><circle cx="566.8" cy="291.0" r="2.6"/><circle cx="574.8" cy="291.0" r="2.6"/><circle cx="582.8" cy="291.0" r="2.6"/><circle cx="590.8" cy="291.0" r="2.6"/><circle cx="598.8" cy="291.0" r="2.6"/><circle cx="606.8" cy="291.0" r="2.6"/><circle cx="522.8" cy="298.0" r="2.6"/><circle cx="530.8" cy="298.0" r="2.6"/><circle cx="538.8" cy="298.0" r="2.6"/><circle cx="546.8" cy="298.0" r="2.6"/><circle cx="554.8" cy="298.0" r="2.6"/><circle cx="562.8" cy="298.0" r="2.6"/><circle cx="570.8" cy="298.0" r="2.6"/><circle cx="578.8" cy="298.0" r="2.6"/><circle cx="586.8" cy="298.0" r="2.6"/><circle cx="594.8" cy="298.0" r="2.6"/><circle cx="602.8" cy="298.0" r="2.6"/><circle cx="610.8" cy="298.0" r="2.6"/><circle cx="518.8" cy="305.0" r="2.6"/><circle cx="526.8" cy="305.0" r="2.6"/><circle cx="534.8" cy="305.0" r="2.6"/><circle cx="542.8" cy="305.0" r="2.6"/><circle cx="550.8" cy="305.0" r="2.6"/><circle cx="558.8" cy="305.0" r="2.6"/><circle cx="566.8" cy="305.0" r="2.6"/><circle cx="574.8" cy="305.0" r="2.6"/><circle cx="582.8" cy="305.0" r="2.6"/><circle cx="590.8" cy="305.0" r="2.6"/><circle cx="598.8" cy="305.0" r="2.6"/><circle cx="606.8" cy="305.0" r="2.6"/><circle cx="522.8" cy="312.0" r="2.6"/><circle cx="530.8" cy="312.0" r="2.6"/><circle cx="538.8" cy="312.0" r="2.6"/><circle cx="546.8" cy="312.0" r="2.6"/><circle cx="554.8" cy="312.0" r="2.6"/><circle cx="562.8" cy="312.0" r="2.6"/><circle cx="570.8" cy="312.0" r="2.6"/><circle cx="578.8" cy="312.0" r="2.6"/><circle cx="586.8" cy="312.0" r="2.6"/><circle cx="594.8" cy="312.0" r="2.6"/><circle cx="602.8" cy="312.0" r="2.6"/><circle cx="610.8" cy="312.0" r="2.6"/><circle cx="518.8" cy="319.0" r="2.6"/><circle cx="526.8" cy="319.0" r="2.6"/><circle cx="534.8" cy="319.0" r="2.6"/><circle cx="542.8" cy="319.0" r="2.6"/><circle cx="550.8" cy="319.0" r="2.6"/><circle cx="558.8" cy="319.0" r="2.6"/><circle cx="566.8" cy="319.0" r="2.6"/><circle cx="574.8" cy="319.0" r="2.6"/><circle cx="582.8" cy="319.0" r="2.6"/><circle cx="590.8" cy="319.0" r="2.6"/><circle cx="598.8" cy="319.0" r="2.6"/><circle cx="606.8" cy="319.0" r="2.6"/><circle cx="522.8" cy="326.0" r="2.6"/><circle cx="530.8" cy="326.0" r="2.6"/><circle cx="538.8" cy="326.0" r="2.6"/><circle cx="546.8" cy="326.0" r="2.6"/><circle cx="554.8" cy="326.0" r="2.6"/><circle cx="562.8" cy="326.0" r="2.6"/><circle cx="570.8" cy="326.0" r="2.6"/><circle cx="578.8" cy="326.0" r="2.6"/><circle cx="586.8" cy="326.0" r="2.6"/><circle cx="594.8" cy="326.0" r="2.6"/><circle cx="602.8" cy="326.0" r="2.6"/><circle cx="610.8" cy="326.0" r="2.6"/><circle cx="518.8" cy="333.0" r="2.6"/><circle cx="526.8" cy="333.0" r="2.6"/><circle cx="534.8" cy="333.0" r="2.6"/><circle cx="542.8" cy="333.0" r="2.6"/><circle cx="550.8" cy="333.0" r="2.6"/><circle cx="558.8" cy="333.0" r="2.6"/><circle cx="566.8" cy="333.0" r="2.6"/><circle cx="574.8" cy="333.0" r="2.6"/><circle cx="582.8" cy="333.0" r="2.6"/><circle cx="590.8" cy="333.0" r="2.6"/><circle cx="598.8" cy="333.0" r="2.6"/><circle cx="606.8" cy="333.0" r="2.6"/><circle cx="522.8" cy="340.0" r="2.6"/><circle cx="530.8" cy="340.0" r="2.6"/><circle cx="538.8" cy="340.0" r="2.6"/><circle cx="546.8" cy="340.0" r="2.6"/><circle cx="554.8" cy="340.0" r="2.6"/><circle cx="562.8" cy="340.0" r="2.6"/><circle cx="570.8" cy="340.0" r="2.6"/><circle cx="578.8" cy="340.0" r="2.6"/><circle cx="586.8" cy="340.0" r="2.6"/><circle cx="594.8" cy="340.0" r="2.6"/><circle cx="602.8" cy="340.0" r="2.6"/><circle cx="610.8" cy="340.0" r="2.6"/><circle cx="518.8" cy="347.0" r="2.6"/><circle cx="526.8" cy="347.0" r="2.6"/><circle cx="534.8" cy="347.0" r="2.6"/><circle cx="542.8" cy="347.0" r="2.6"/><circle cx="550.8" cy="347.0" r="2.6"/><circle cx="558.8" cy="347.0" r="2.6"/><circle cx="566.8" cy="347.0" r="2.6"/><circle cx="574.8" cy="347.0" r="2.6"/><circle cx="582.8" cy="347.0" r="2.6"/><circle cx="590.8" cy="347.0" r="2.6"/><circle cx="598.8" cy="347.0" r="2.6"/><circle cx="606.8" cy="347.0" r="2.6"/><circle cx="522.8" cy="354.0" r="2.6"/><circle cx="530.8" cy="354.0" r="2.6"/><circle cx="538.8" cy="354.0" r="2.6"/><circle cx="546.8" cy="354.0" r="2.6"/><circle cx="554.8" cy="354.0" r="2.6"/><circle cx="562.8" cy="354.0" r="2.6"/><circle cx="570.8" cy="354.0" r="2.6"/><circle cx="578.8" cy="354.0" r="2.6"/><circle cx="586.8" cy="354.0" r="2.6"/><circle cx="594.8" cy="354.0" r="2.6"/><circle cx="602.8" cy="354.0" r="2.6"/><circle cx="610.8" cy="354.0" r="2.6"/><circle cx="518.8" cy="361.0" r="2.6"/><circle cx="526.8" cy="361.0" r="2.6"/><circle cx="534.8" cy="361.0" r="2.6"/><circle cx="542.8" cy="361.0" r="2.6"/><circle cx="550.8" cy="361.0" r="2.6"/><circle cx="558.8" cy="361.0" r="2.6"/><circle cx="566.8" cy="361.0" r="2.6"/><circle cx="574.8" cy="361.0" r="2.6"/><circle cx="582.8" cy="361.0" r="2.6"/><circle cx="590.8" cy="361.0" r="2.6"/><circle cx="598.8" cy="361.0" r="2.6"/><circle cx="606.8" cy="361.0" r="2.6"/></g>
<g fill="#e04294" opacity="0.8"><circle cx="518.0" cy="276.0" r="2.1"/><circle cx="526.0" cy="276.0" r="2.1"/><circle cx="534.0" cy="276.0" r="2.1"/><circle cx="542.0" cy="276.0" r="2.1"/><circle cx="550.0" cy="276.0" r="2.1"/><circle cx="558.0" cy="276.0" r="2.1"/><circle cx="566.0" cy="276.0" r="2.1"/><circle cx="574.0" cy="276.0" r="2.1"/><circle cx="582.0" cy="276.0" r="2.1"/><circle cx="590.0" cy="276.0" r="2.1"/><circle cx="598.0" cy="276.0" r="2.1"/><circle cx="606.0" cy="276.0" r="2.1"/><circle cx="522.0" cy="283.0" r="2.1"/><circle cx="530.0" cy="283.0" r="2.1"/><circle cx="538.0" cy="283.0" r="2.1"/><circle cx="546.0" cy="283.0" r="2.1"/><circle cx="554.0" cy="283.0" r="2.1"/><circle cx="562.0" cy="283.0" r="2.1"/><circle cx="570.0" cy="283.0" r="2.1"/><circle cx="578.0" cy="283.0" r="2.1"/><circle cx="586.0" cy="283.0" r="2.1"/><circle cx="594.0" cy="283.0" r="2.1"/><circle cx="602.0" cy="283.0" r="2.1"/><circle cx="610.0" cy="283.0" r="2.1"/><circle cx="518.0" cy="290.0" r="2.1"/><circle cx="526.0" cy="290.0" r="2.1"/><circle cx="534.0" cy="290.0" r="2.1"/><circle cx="542.0" cy="290.0" r="2.1"/><circle cx="550.0" cy="290.0" r="2.1"/><circle cx="558.0" cy="290.0" r="2.1"/><circle cx="566.0" cy="290.0" r="2.1"/><circle cx="574.0" cy="290.0" r="2.1"/><circle cx="582.0" cy="290.0" r="2.1"/><circle cx="590.0" cy="290.0" r="2.1"/><circle cx="598.0" cy="290.0" r="2.1"/><circle cx="606.0" cy="290.0" r="2.1"/><circle cx="522.0" cy="297.0" r="2.1"/><circle cx="530.0" cy="297.0" r="2.1"/><circle cx="538.0" cy="297.0" r="2.1"/><circle cx="546.0" cy="297.0" r="2.1"/><circle cx="554.0" cy="297.0" r="2.1"/><circle cx="562.0" cy="297.0" r="2.1"/><circle cx="570.0" cy="297.0" r="2.1"/><circle cx="578.0" cy="297.0" r="2.1"/><circle cx="586.0" cy="297.0" r="2.1"/><circle cx="594.0" cy="297.0" r="2.1"/><circle cx="602.0" cy="297.0" r="2.1"/><circle cx="610.0" cy="297.0" r="2.1"/><circle cx="518.0" cy="304.0" r="2.1"/><circle cx="526.0" cy="304.0" r="2.1"/><circle cx="534.0" cy="304.0" r="2.1"/><circle cx="542.0" cy="304.0" r="2.1"/><circle cx="550.0" cy="304.0" r="2.1"/><circle cx="558.0" cy="304.0" r="2.1"/><circle cx="566.0" cy="304.0" r="2.1"/><circle cx="574.0" cy="304.0" r="2.1"/><circle cx="582.0" cy="304.0" r="2.1"/><circle cx="590.0" cy="304.0" r="2.1"/><circle cx="598.0" cy="304.0" r="2.1"/><circle cx="606.0" cy="304.0" r="2.1"/><circle cx="522.0" cy="311.0" r="2.1"/><circle cx="530.0" cy="311.0" r="2.1"/><circle cx="538.0" cy="311.0" r="2.1"/><circle cx="546.0" cy="311.0" r="2.1"/><circle cx="554.0" cy="311.0" r="2.1"/><circle cx="562.0" cy="311.0" r="2.1"/><circle cx="570.0" cy="311.0" r="2.1"/><circle cx="578.0" cy="311.0" r="2.1"/><circle cx="586.0" cy="311.0" r="2.1"/><circle cx="594.0" cy="311.0" r="2.1"/><circle cx="602.0" cy="311.0" r="2.1"/><circle cx="610.0" cy="311.0" r="2.1"/><circle cx="518.0" cy="318.0" r="2.1"/><circle cx="526.0" cy="318.0" r="2.1"/><circle cx="534.0" cy="318.0" r="2.1"/><circle cx="542.0" cy="318.0" r="2.1"/><circle cx="550.0" cy="318.0" r="2.1"/><circle cx="558.0" cy="318.0" r="2.1"/><circle cx="566.0" cy="318.0" r="2.1"/><circle cx="574.0" cy="318.0" r="2.1"/><circle cx="582.0" cy="318.0" r="2.1"/><circle cx="590.0" cy="318.0" r="2.1"/><circle cx="598.0" cy="318.0" r="2.1"/><circle cx="606.0" cy="318.0" r="2.1"/><circle cx="522.0" cy="325.0" r="2.1"/><circle cx="530.0" cy="325.0" r="2.1"/><circle cx="538.0" cy="325.0" r="2.1"/><circle cx="546.0" cy="325.0" r="2.1"/><circle cx="554.0" cy="325.0" r="2.1"/><circle cx="562.0" cy="325.0" r="2.1"/><circle cx="570.0" cy="325.0" r="2.1"/><circle cx="578.0" cy="325.0" r="2.1"/><circle cx="586.0" cy="325.0" r="2.1"/><circle cx="594.0" cy="325.0" r="2.1"/><circle cx="602.0" cy="325.0" r="2.1"/><circle cx="610.0" cy="325.0" r="2.1"/><circle cx="518.0" cy="332.0" r="2.1"/><circle cx="526.0" cy="332.0" r="2.1"/><circle cx="534.0" cy="332.0" r="2.1"/><circle cx="542.0" cy="332.0" r="2.1"/><circle cx="550.0" cy="332.0" r="2.1"/><circle cx="558.0" cy="332.0" r="2.1"/><circle cx="566.0" cy="332.0" r="2.1"/><circle cx="574.0" cy="332.0" r="2.1"/><circle cx="582.0" cy="332.0" r="2.1"/><circle cx="590.0" cy="332.0" r="2.1"/><circle cx="598.0" cy="332.0" r="2.1"/><circle cx="606.0" cy="332.0" r="2.1"/><circle cx="522.0" cy="339.0" r="2.1"/><circle cx="530.0" cy="339.0" r="2.1"/><circle cx="538.0" cy="339.0" r="2.1"/><circle cx="546.0" cy="339.0" r="2.1"/><circle cx="554.0" cy="339.0" r="2.1"/><circle cx="562.0" cy="339.0" r="2.1"/><circle cx="570.0" cy="339.0" r="2.1"/><circle cx="578.0" cy="339.0" r="2.1"/><circle cx="586.0" cy="339.0" r="2.1"/><circle cx="594.0" cy="339.0" r="2.1"/><circle cx="602.0" cy="339.0" r="2.1"/><circle cx="610.0" cy="339.0" r="2.1"/><circle cx="518.0" cy="346.0" r="2.1"/><circle cx="526.0" cy="346.0" r="2.1"/><circle cx="534.0" cy="346.0" r="2.1"/><circle cx="542.0" cy="346.0" r="2.1"/><circle cx="550.0" cy="346.0" r="2.1"/><circle cx="558.0" cy="346.0" r="2.1"/><circle cx="566.0" cy="346.0" r="2.1"/><circle cx="574.0" cy="346.0" r="2.1"/><circle cx="582.0" cy="346.0" r="2.1"/><circle cx="590.0" cy="346.0" r="2.1"/><circle cx="598.0" cy="346.0" r="2.1"/><circle cx="606.0" cy="346.0" r="2.1"/><circle cx="522.0" cy="353.0" r="2.1"/><circle cx="530.0" cy="353.0" r="2.1"/><circle cx="538.0" cy="353.0" r="2.1"/><circle cx="546.0" cy="353.0" r="2.1"/><circle cx="554.0" cy="353.0" r="2.1"/><circle cx="562.0" cy="353.0" r="2.1"/><circle cx="570.0" cy="353.0" r="2.1"/><circle cx="578.0" cy="353.0" r="2.1"/><circle cx="586.0" cy="353.0" r="2.1"/><circle cx="594.0" cy="353.0" r="2.1"/><circle cx="602.0" cy="353.0" r="2.1"/><circle cx="610.0" cy="353.0" r="2.1"/><circle cx="518.0" cy="360.0" r="2.1"/><circle cx="526.0" cy="360.0" r="2.1"/><circle cx="534.0" cy="360.0" r="2.1"/><circle cx="542.0" cy="360.0" r="2.1"/><circle cx="550.0" cy="360.0" r="2.1"/><circle cx="558.0" cy="360.0" r="2.1"/><circle cx="566.0" cy="360.0" r="2.1"/><circle cx="574.0" cy="360.0" r="2.1"/><circle cx="582.0" cy="360.0" r="2.1"/><circle cx="590.0" cy="360.0" r="2.1"/><circle cx="598.0" cy="360.0" r="2.1"/><circle cx="606.0" cy="360.0" r="2.1"/></g>
</g>
<linearGradient id="nsT2" x1="0" y1="0" x2="0" y2="1"><stop offset="0" stop-color="#d23a88"/><stop offset="0.3" stop-color="#c92c74"/><stop offset="1" stop-color="#bd2260"/></linearGradient>
<linearGradient id="nsB2" x1="0" y1="0" x2="0" y2="1"><stop offset="0" stop-color="#7c1256"/><stop offset="0.6" stop-color="#921866"/><stop offset="1" stop-color="#aa1e74"/></linearGradient>
<g clip-path="url(#c4)">
<rect x="545" y="450" width="85" height="40" fill="url(#nsT2)"/>
<path d="M545,489.5 Q587,486.5 630,489.5 V504 H545 Z" fill="#2c302e"/>
<path d="M545,489.5 Q587,486.5 630,489.5" fill="none" stroke="#0e0e0e" stroke-width="3"/>
<rect x="545" y="504" width="85" height="32" fill="url(#nsB2)"/>
</g>
<circle cx="92.0" cy="227.0" r="40.3" fill="none" stroke="#24101a" stroke-width="1.8"/>
<circle cx="296.0" cy="169.5" r="40.3" fill="none" stroke="#24101a" stroke-width="1.8"/>
<circle cx="525.6" cy="140.2" r="40.3" fill="none" stroke="#24101a" stroke-width="1.8"/>
<circle cx="562.0" cy="316.0" r="40.3" fill="none" stroke="#24101a" stroke-width="1.8"/>
<circle cx="587.0" cy="492.0" r="40.3" fill="none" stroke="#24101a" stroke-width="1.8"/>
<text x="193.5" y="117.60" font-size="20.5" fill="#161616" stroke="#fff" stroke-width="0.3" textLength="204.5" lengthAdjust="spacingAndGlyphs">Acupressure Nodes</text>
<text x="26.8" y="151.00" font-size="20.5" fill="#161616" stroke="#fff" stroke-width="0.3" textLength="131.0" lengthAdjust="spacingAndGlyphs">Ball-Bearing</text>
<text x="17.0" y="175.00" font-size="20.5" fill="#161616" stroke="#fff" stroke-width="0.3" textLength="150.5" lengthAdjust="spacingAndGlyphs">Gliding Swivel</text>
<text x="476.0" y="63.00" font-size="20.5" fill="#161616" stroke="#fff" stroke-width="0.3" textLength="102.0" lengthAdjust="spacingAndGlyphs">Magnetic</text>
<text x="438.5" y="87.40" font-size="20.5" fill="#161616" stroke="#fff" stroke-width="0.3" textLength="177.0" lengthAdjust="spacingAndGlyphs">Key-Point Nodes</text>
<text x="515.5" y="238.70" font-size="20.5" fill="#161616" stroke="#fff" stroke-width="0.3" textLength="93.5" lengthAdjust="spacingAndGlyphs">Textured</text>
<text x="466.5" y="263.40" font-size="20.5" fill="#161616" stroke="#fff" stroke-width="0.3" textLength="190.5" lengthAdjust="spacingAndGlyphs">Gripping Platform</text>
<text x="543.2" y="414.30" font-size="20.5" fill="#161616" stroke="#fff" stroke-width="0.3" textLength="88.0" lengthAdjust="spacingAndGlyphs">Non Slip</text>
<text x="512.7" y="438.60" font-size="20.5" fill="#161616" stroke="#fff" stroke-width="0.3" textLength="149.0" lengthAdjust="spacingAndGlyphs">Gripping Base</text>
</svg></body></html>
